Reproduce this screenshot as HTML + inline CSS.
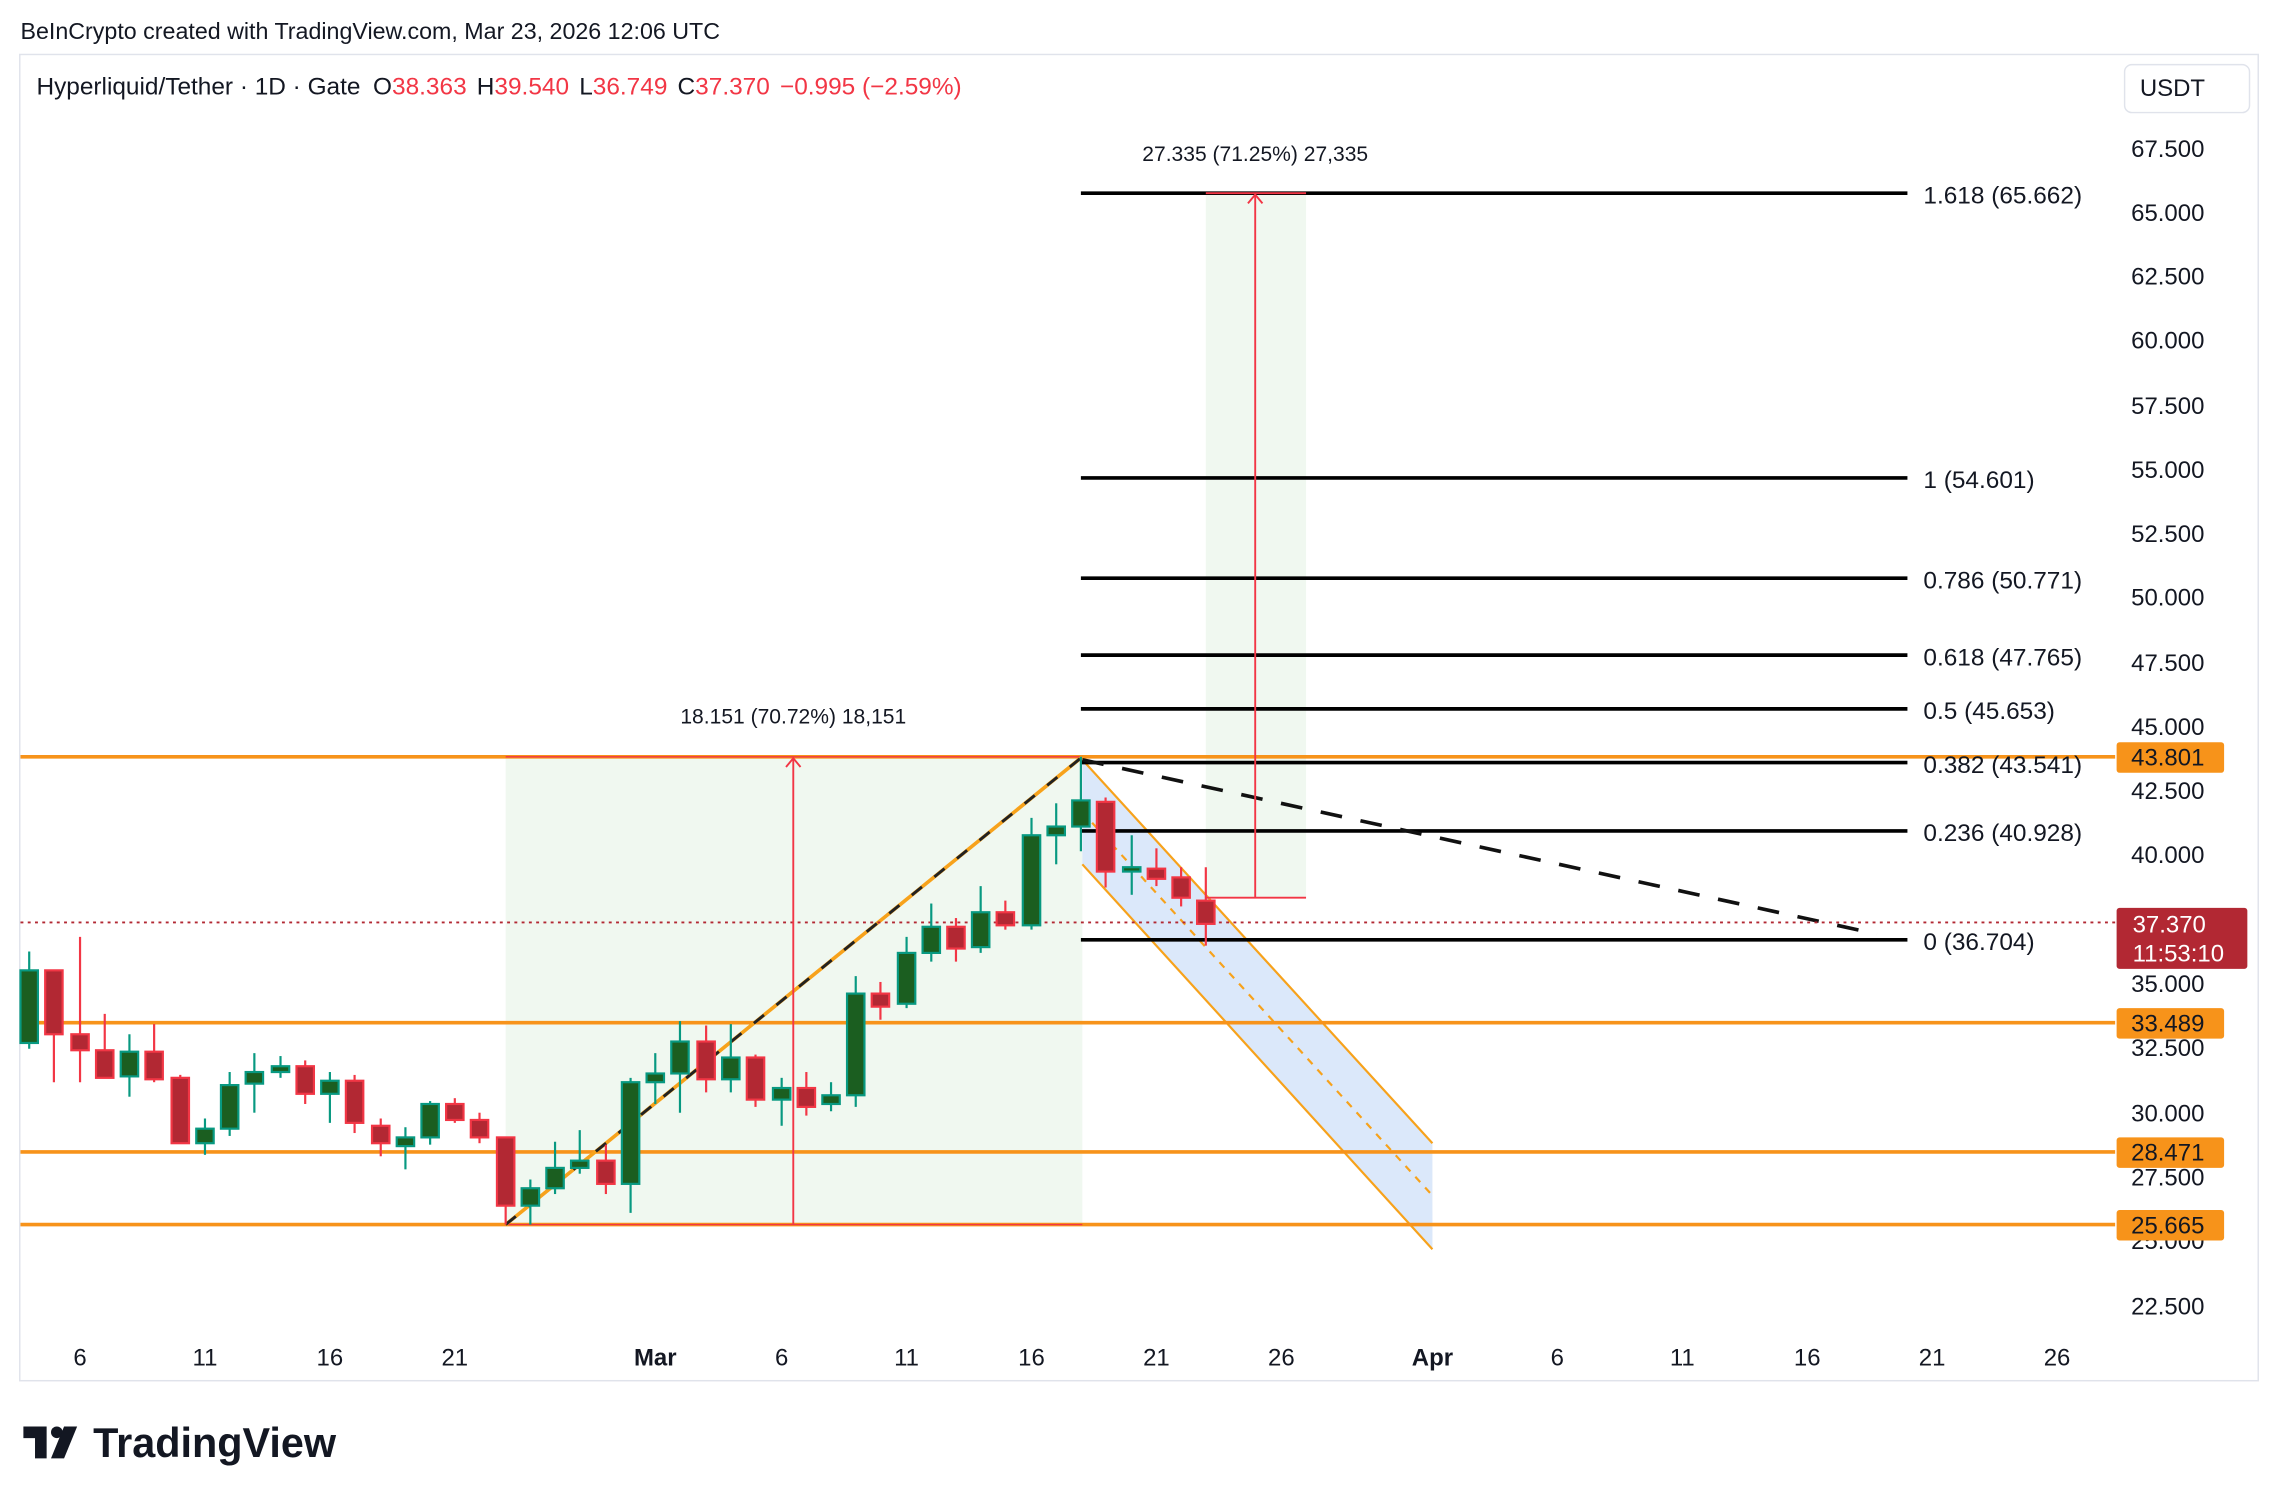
<!DOCTYPE html>
<html><head><meta charset="utf-8"><style>
html,body{margin:0;padding:0;background:#fff;}
svg{display:block;font-family:"Liberation Sans",sans-serif;}
</style></head><body>
<svg width="2278" height="1502" viewBox="0 0 1568 1034" xmlns="http://www.w3.org/2000/svg">
<rect width="1568" height="1034" fill="#fff"/>
<text x="14" y="27" font-size="16" fill="#131722">BeInCrypto created with TradingView.com, Mar 23, 2026 12:06 UTC</text>
<rect x="13.5" y="37.5" width="1541" height="913" fill="none" stroke="#e0e3eb"/>
<text x="25" y="65" font-size="16.8" fill="#131722">Hyperliquid/Tether · 1D · Gate <tspan dx="4">O</tspan><tspan fill="#f23645">38.363</tspan><tspan dx="7">H</tspan><tspan fill="#f23645">39.540</tspan><tspan dx="7">L</tspan><tspan fill="#f23645">36.749</tspan><tspan dx="7">C</tspan><tspan fill="#f23645">37.370</tspan><tspan dx="7" fill="#f23645">−0.995 (−2.59%)</tspan></text>
<rect x="1462.5" y="44.5" width="86" height="33" rx="5" fill="#fff" stroke="#e0e3eb"/>
<text x="1473" y="66" font-size="16.5" fill="#131722">USDT</text>
<rect x="348" y="521" width="397" height="322" fill="#f0f8f0"/>
<rect x="830" y="133" width="69" height="485" fill="#f0f8f0"/>
<polygon points="745,523 986,787 986,860 745,595" fill="#dbe8fa"/>
<line x1="745" y1="523" x2="986" y2="787" stroke="#f7a21b" stroke-width="1.5"/>
<line x1="745" y1="595" x2="986" y2="860" stroke="#f7a21b" stroke-width="1.5"/>
<line x1="745" y1="559" x2="986" y2="823" stroke="#f7a21b" stroke-width="1.5" stroke-dasharray="5,5"/>
<g stroke="#f7931a" stroke-width="2.5">
<line x1="14" y1="521" x2="1456" y2="521"/>
<line x1="14" y1="704" x2="1456" y2="704"/>
<line x1="14" y1="793" x2="1456" y2="793"/>
<line x1="14" y1="843" x2="1456" y2="843"/>
</g>
<line x1="348" y1="521" x2="745" y2="521" stroke="#f23645" stroke-width="1"/>
<line x1="348" y1="843" x2="745" y2="843" stroke="#f23645" stroke-width="1"/>
<g stroke="#000" stroke-width="2.5">
<line x1="744" y1="133" x2="1313" y2="133"/>
<line x1="744" y1="329" x2="1313" y2="329"/>
<line x1="744" y1="398" x2="1313" y2="398"/>
<line x1="744" y1="451" x2="1313" y2="451"/>
<line x1="744" y1="488" x2="1313" y2="488"/>
<line x1="744" y1="525" x2="1313" y2="525"/>
<line x1="744" y1="572" x2="1313" y2="572"/>
<line x1="744" y1="647" x2="1313" y2="647"/>
</g>
<g font-size="16.8" fill="#131722">
<text x="1324" y="140">1.618 (65.662)</text>
<text x="1324" y="336">1 (54.601)</text>
<text x="1324" y="405">0.786 (50.771)</text>
<text x="1324" y="458">0.618 (47.765)</text>
<text x="1324" y="495">0.5 (45.653)</text>
<text x="1324" y="532">0.382 (43.541)</text>
<text x="1324" y="579">0.236 (40.928)</text>
<text x="1324" y="654">0 (36.704)</text>
</g>
<line x1="348" y1="843" x2="745" y2="521" stroke="#f7a21b" stroke-width="2.5"/>
<line x1="348" y1="843" x2="745" y2="521" stroke="#222" stroke-width="2" stroke-dasharray="9,11"/>
<line x1="745" y1="523" x2="1292" y2="643" stroke="#111" stroke-width="2.5" stroke-dasharray="15,13"/>
<line x1="14" y1="635" x2="1456" y2="635" stroke="#b22833" stroke-width="1.3" stroke-dasharray="2,3"/>
<g stroke="#f23645" stroke-width="1.3" fill="none">
<line x1="546" y1="843" x2="546" y2="522"/><polyline points="541,528 546,522 551,528"/>
<line x1="864" y1="618" x2="864" y2="134"/><polyline points="859,140 864,134 869,140"/>
<line x1="830" y1="618" x2="899" y2="618"/>
<line x1="830" y1="133" x2="899" y2="133"/>
</g>
<text x="546" y="498" font-size="14.5" fill="#131722" text-anchor="middle">18.151 (70.72%) 18,151</text>
<text x="864" y="111" font-size="14.5" fill="#131722" text-anchor="middle">27.335 (71.25%) 27,335</text>
<g stroke-width="1.5">
<g stroke="#089981" fill="#1b5e20">
<line x1="20" y1="655" x2="20" y2="722"/><rect x="14" y="668" width="12" height="50"/>
<line x1="89" y1="712" x2="89" y2="755"/><rect x="83" y="724" width="12" height="17"/>
<line x1="141" y1="770" x2="141" y2="795"/><rect x="135" y="777" width="12" height="10"/>
<line x1="158" y1="738" x2="158" y2="782"/><rect x="152" y="747" width="12" height="30"/>
<line x1="175" y1="725" x2="175" y2="766"/><rect x="169" y="738" width="12" height="8"/>
<line x1="193" y1="727" x2="193" y2="742"/><rect x="187" y="734" width="12" height="4"/>
<line x1="227" y1="738" x2="227" y2="773"/><rect x="221" y="744" width="12" height="9"/>
<line x1="279" y1="776" x2="279" y2="805"/><rect x="273" y="783" width="12" height="6"/>
<line x1="296" y1="758" x2="296" y2="788"/><rect x="290" y="760" width="12" height="23"/>
<line x1="365" y1="812" x2="365" y2="843"/><rect x="359" y="818" width="12" height="12"/>
<line x1="382" y1="786" x2="382" y2="822"/><rect x="376" y="804" width="12" height="14"/>
<line x1="399" y1="778" x2="399" y2="808"/><rect x="393" y="799" width="12" height="5"/>
<line x1="434" y1="742" x2="434" y2="835"/><rect x="428" y="745" width="12" height="70"/>
<line x1="451" y1="725" x2="451" y2="760"/><rect x="445" y="739" width="12" height="6"/>
<line x1="468" y1="703" x2="468" y2="766"/><rect x="462" y="717" width="12" height="22"/>
<line x1="503" y1="705" x2="503" y2="752"/><rect x="497" y="728" width="12" height="15"/>
<line x1="538" y1="742" x2="538" y2="775"/><rect x="532" y="749" width="12" height="8"/>
<line x1="572" y1="745" x2="572" y2="765"/><rect x="566" y="754" width="12" height="6"/>
<line x1="589" y1="672" x2="589" y2="762"/><rect x="583" y="684" width="12" height="70"/>
<line x1="624" y1="645" x2="624" y2="694"/><rect x="618" y="656" width="12" height="35"/>
<line x1="641" y1="622" x2="641" y2="662"/><rect x="635" y="638" width="12" height="18"/>
<line x1="675" y1="610" x2="675" y2="656"/><rect x="669" y="628" width="12" height="24"/>
<line x1="710" y1="563" x2="710" y2="640"/><rect x="704" y="575" width="12" height="62"/>
<line x1="727" y1="553" x2="727" y2="595"/><rect x="721" y="569" width="12" height="6"/>
<line x1="744" y1="521" x2="744" y2="586"/><rect x="738" y="551" width="12" height="18"/>
<line x1="779" y1="575" x2="779" y2="616"/><rect x="773" y="597" width="12" height="3"/>
</g>
<g stroke="#f23645" fill="#b22833">
<line x1="37" y1="668" x2="37" y2="745"/><rect x="31" y="668" width="12" height="44"/>
<line x1="55" y1="645" x2="55" y2="745"/><rect x="49" y="712" width="12" height="11"/>
<line x1="72" y1="698" x2="72" y2="742"/><rect x="66" y="723" width="12" height="19"/>
<line x1="106" y1="705" x2="106" y2="745"/><rect x="100" y="724" width="12" height="19"/>
<line x1="124" y1="740" x2="124" y2="787"/><rect x="118" y="742" width="12" height="45"/>
<line x1="210" y1="730" x2="210" y2="760"/><rect x="204" y="734" width="12" height="19"/>
<line x1="244" y1="740" x2="244" y2="780"/><rect x="238" y="744" width="12" height="29"/>
<line x1="262" y1="770" x2="262" y2="796"/><rect x="256" y="775" width="12" height="12"/>
<line x1="313" y1="756" x2="313" y2="773"/><rect x="307" y="760" width="12" height="11"/>
<line x1="330" y1="766" x2="330" y2="787"/><rect x="324" y="771" width="12" height="12"/>
<line x1="348" y1="783" x2="348" y2="843"/><rect x="342" y="783" width="12" height="47"/>
<line x1="417" y1="788" x2="417" y2="822"/><rect x="411" y="799" width="12" height="16"/>
<line x1="486" y1="706" x2="486" y2="752"/><rect x="480" y="717" width="12" height="26"/>
<line x1="520" y1="726" x2="520" y2="762"/><rect x="514" y="728" width="12" height="29"/>
<line x1="555" y1="738" x2="555" y2="768"/><rect x="549" y="749" width="12" height="13"/>
<line x1="606" y1="676" x2="606" y2="702"/><rect x="600" y="684" width="12" height="9"/>
<line x1="658" y1="632" x2="658" y2="662"/><rect x="652" y="638" width="12" height="15"/>
<line x1="692" y1="620" x2="692" y2="640"/><rect x="686" y="628" width="12" height="9"/>
<line x1="761" y1="549" x2="761" y2="611"/><rect x="755" y="552" width="12" height="48"/>
<line x1="796" y1="584" x2="796" y2="610"/><rect x="790" y="598" width="12" height="7"/>
<line x1="813" y1="597" x2="813" y2="624"/><rect x="807" y="604" width="12" height="14"/>
<line x1="830" y1="597" x2="830" y2="651"/><rect x="824" y="620" width="12" height="16"/>
</g>
</g>
<g font-size="16.5" fill="#131722">
<text x="1467" y="108">67.500</text><text x="1467" y="152">65.000</text><text x="1467" y="196">62.500</text>
<text x="1467" y="240">60.000</text><text x="1467" y="285">57.500</text><text x="1467" y="329">55.000</text>
<text x="1467" y="373">52.500</text><text x="1467" y="417">50.000</text><text x="1467" y="462">47.500</text>
<text x="1467" y="506">45.000</text><text x="1467" y="550">42.500</text><text x="1467" y="594">40.000</text>
<text x="1467" y="683">35.000</text><text x="1467" y="727">32.500</text><text x="1467" y="772">30.000</text>
<text x="1467" y="816">27.500</text><text x="1467" y="860">25.000</text><text x="1467" y="905">22.500</text>
</g>
<g font-size="16.5" fill="#131722">
<rect x="1457" y="511" width="74" height="21" rx="2" fill="#f7931a"/><text x="1467" y="527">43.801</text>
<rect x="1457" y="694" width="74" height="21" rx="2" fill="#f7931a"/><text x="1467" y="710">33.489</text>
<rect x="1457" y="783" width="74" height="21" rx="2" fill="#f7931a"/><text x="1467" y="799">28.471</text>
<rect x="1457" y="833" width="74" height="21" rx="2" fill="#f7931a"/><text x="1467" y="849">25.665</text>
</g>
<rect x="1457" y="625" width="90" height="42" rx="2" fill="#b22833"/>
<text x="1468" y="642" font-size="16.5" fill="#fff">37.370</text>
<text x="1468" y="662" font-size="16.5" fill="#fff">11:53:10</text>
<g font-size="16.5" fill="#131722" text-anchor="middle">
<text x="55" y="940">6</text><text x="141" y="940">11</text><text x="227" y="940">16</text><text x="313" y="940">21</text>
<text x="451" y="940" font-weight="bold">Mar</text><text x="538" y="940">6</text><text x="624" y="940">11</text>
<text x="710" y="940">16</text><text x="796" y="940">21</text><text x="882" y="940">26</text>
<text x="986" y="940" font-weight="bold">Apr</text><text x="1072" y="940">6</text><text x="1158" y="940">11</text>
<text x="1244" y="940">16</text><text x="1330" y="940">21</text><text x="1416" y="940">26</text>
</g>
<g fill="#131722">
<path d="M16 982 h16 v22 h-8 v-14 h-8z"/>
<circle cx="39" cy="986" r="4"/>
<path d="M44 982 h9 l-9 22 h-9z"/>
</g>
<text x="64" y="1003" font-size="28.5" font-weight="bold" fill="#131722">TradingView</text>
</svg>
</body></html>
